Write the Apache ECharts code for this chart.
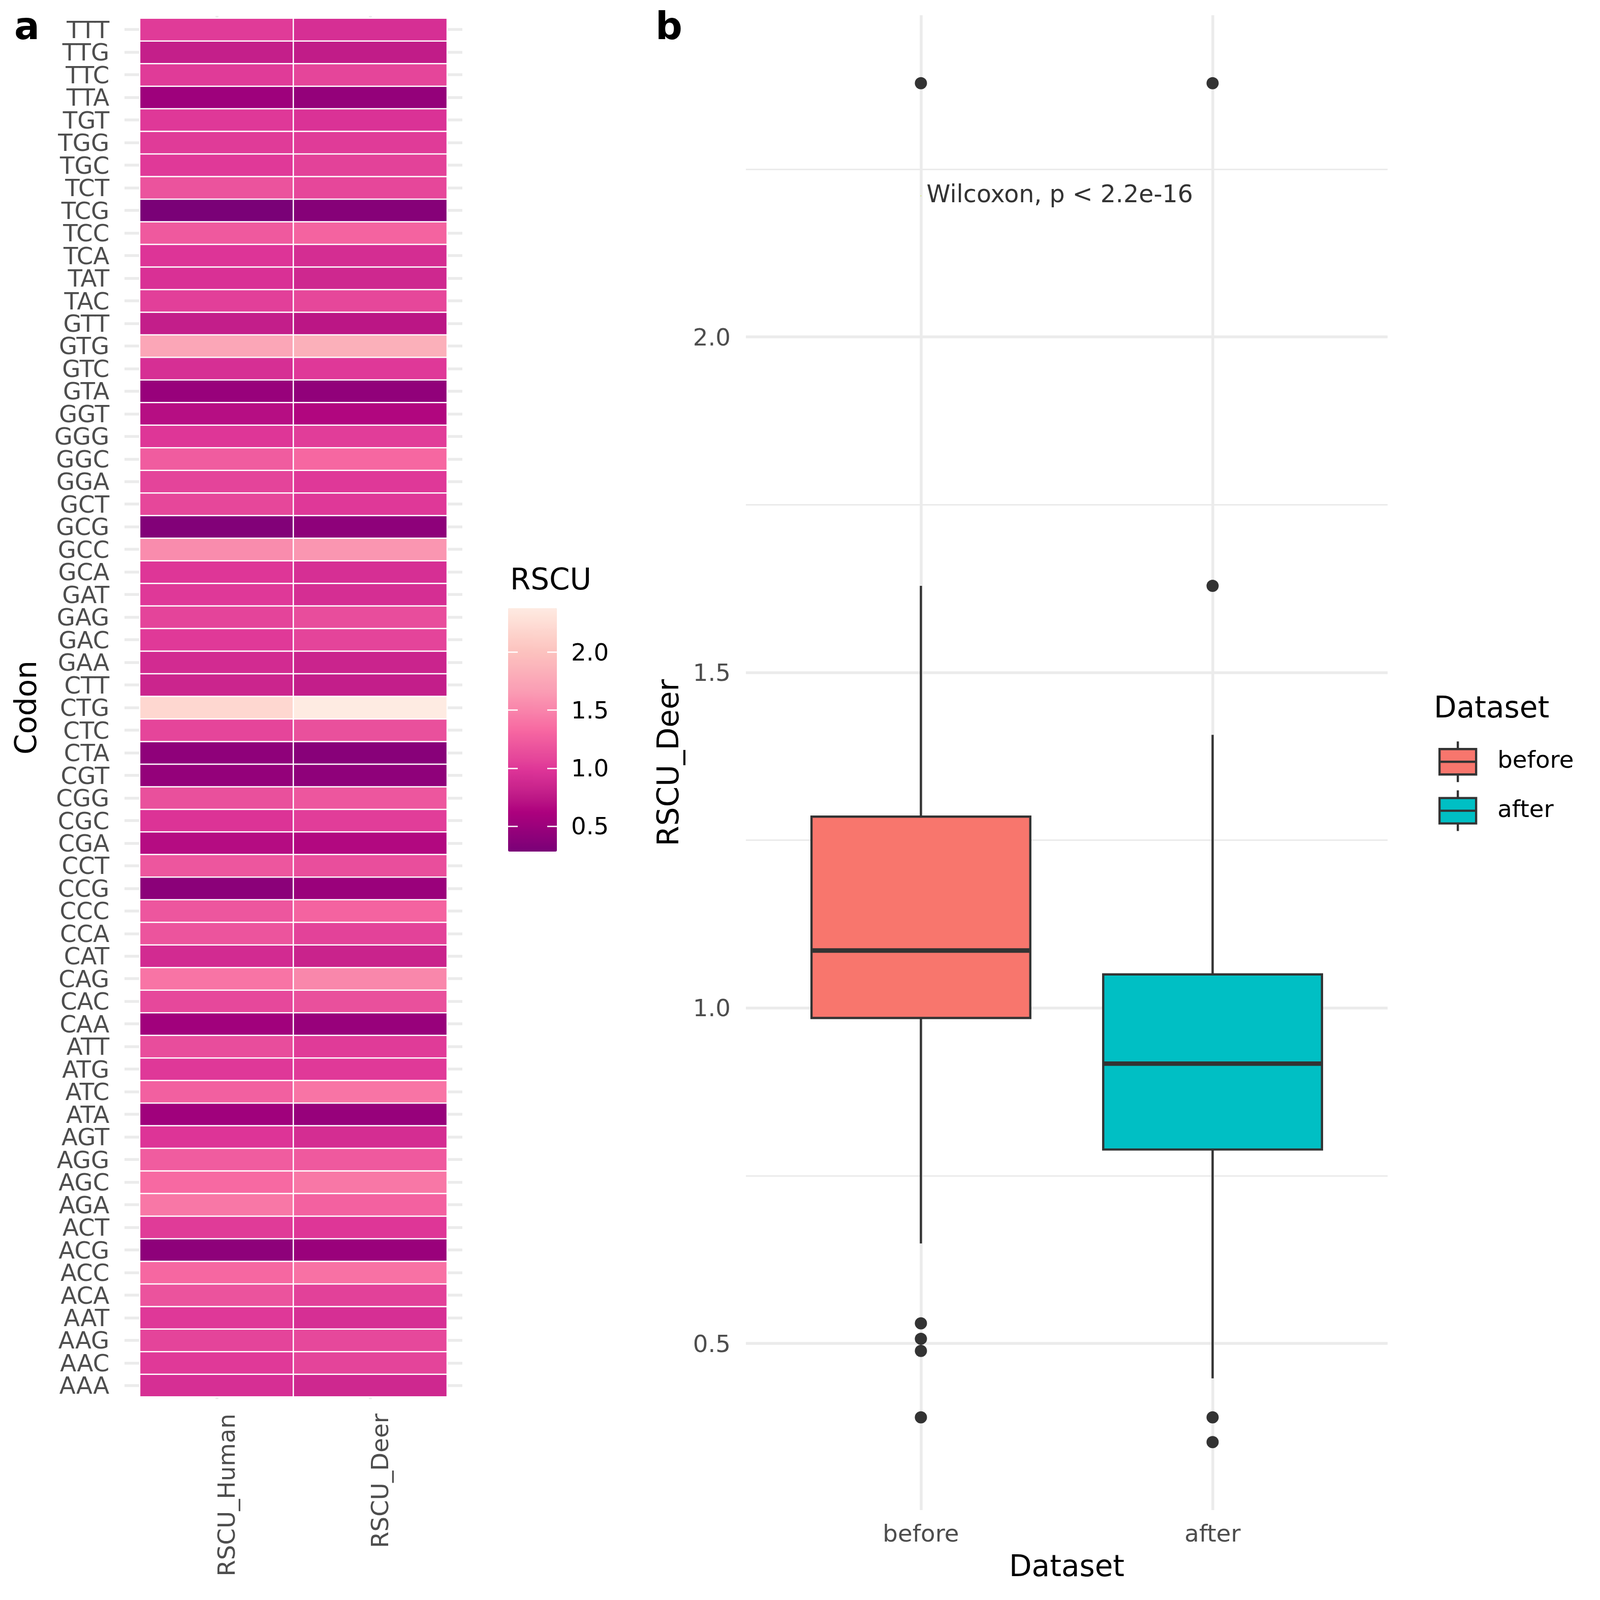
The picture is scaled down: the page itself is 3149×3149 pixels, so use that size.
<!DOCTYPE html>
<html><head><meta charset="utf-8">
<script src="https://cdn.jsdelivr.net/npm/echarts@6/dist/echarts.min.js"></script>
<style>html,body{margin:0;padding:0;background:#fff}#c{width:3149px;height:3149px}</style>
</head><body><div id="c"></div>
<script>
// ---------------- DATA ----------------
const codons = ['AAA','AAC','AAG','AAT','ACA','ACC','ACG','ACT','AGA','AGC','AGG','AGT','ATA','ATC','ATG','ATT',
  'CAA','CAC','CAG','CAT','CCA','CCC','CCG','CCT','CGA','CGC','CGG','CGT','CTA','CTC','CTG','CTT',
  'GAA','GAC','GAG','GAT','GCA','GCC','GCG','GCT','GGA','GGC','GGG','GGT','GTA','GTC','GTG','GTT',
  'TAC','TAT','TCA','TCC','TCG','TCT','TGC','TGG','TGT','TTA','TTC','TTG','TTT'];
const rscuHuman = [0.93,1.01,1.07,1.00,1.17,1.32,0.41,1.02,1.42,1.33,1.24,0.98,0.53,1.27,1.00,1.13,
  0.54,1.10,1.40,0.90,1.18,1.20,0.39,1.20,0.68,0.97,1.15,0.45,0.42,1.08,2.20,0.85,
  0.90,1.01,1.07,1.00,0.99,1.55,0.33,1.09,1.07,1.24,0.99,0.69,0.48,0.93,1.75,0.79,
  1.04,0.95,0.98,1.22,0.28,1.17,1.01,1.02,1.00,0.52,1.02,0.80,1.02];
const rscuDeer = [0.87,1.07,1.10,0.93,1.05,1.38,0.49,0.99,1.28,1.42,1.22,0.91,0.47,1.40,1.01,1.02,
  0.48,1.15,1.52,0.83,1.06,1.29,0.49,1.14,0.66,1.03,1.20,0.42,0.37,1.15,2.38,0.79,
  0.84,1.07,1.13,0.92,0.93,1.62,0.41,1.00,1.00,1.32,1.03,0.65,0.43,1.00,1.83,0.73,
  1.09,0.87,0.91,1.29,0.36,1.09,1.06,1.02,0.96,0.45,1.08,0.77,0.93];
const heatColumns = ['RSCU_Human','RSCU_Deer'];
const rscuTicks = [0.5, 1.0, 1.5, 2.0];

const datasets = ['before','after'];
const boxBefore = [0.649, 0.985, 1.0855, 1.285, 1.629];   // min, Q1, median, Q3, max (whiskers)
const boxAfter  = [0.448, 0.789, 0.917, 1.050, 1.407];
const outBefore = [2.378, 0.530, 0.507, 0.489, 0.390];
const outAfter  = [2.378, 1.629, 0.390, 0.353];
const boxTicks = [0.5, 1.0, 1.5, 2.0];
const boxMinorTicks = [0.75, 1.25, 1.75, 2.25];
const wilcox = {text:'Wilcoxon, p < 2.2e-16', x:1, y:2.21};

// ---------------- STYLE HELPERS ----------------
const FONT = 'DejaVu Sans';
const AX = 46.7, TT = 58;
const GREY = '#4D4D4D', GRID = '#EBEBEB';
const rdpu = ['#7A0177','#AE017E','#DD3497','#F768A1','#FA9FB5','#FCC5C0','#FEEBE2'];
const datasetColors = ['#F8766D','#00BFC4'];

function hex2rgb(h){return [1,3,5].map(i=>parseInt(h.slice(i,i+2),16));}
function s2l(c){c/=255;return c<=0.04045?c/12.92:Math.pow((c+0.055)/1.055,2.4);}
function l2s(c){c=c<=0.0031308?12.92*c:1.055*Math.pow(c,1/2.4)-0.055;return Math.round(Math.max(0,Math.min(1,c))*255);}
const WN=[0.95047,1,1.08883];
function ff(t){return t>0.008856?Math.cbrt(t):7.787*t+16/116;}
function fi(t){return t>0.206893?t*t*t:(t-16/116)/7.787;}
function rgb2lab(rgb){const [r,g,b]=rgb.map(s2l);const X=(0.4124*r+0.3576*g+0.1805*b)/WN[0],Y=0.2126*r+0.7152*g+0.0722*b,Z=(0.0193*r+0.1192*g+0.9505*b)/WN[2];const fx=ff(X),fy=ff(Y),fz=ff(Z);return [116*fy-16,500*(fx-fy),200*(fy-fz)];}
function lab2rgb(lab){const fy=(lab[0]+16)/116,fx=fy+lab[1]/500,fz=fy-lab[2]/200;const X=fi(fx)*WN[0],Y=fi(fy),Z=fi(fz)*WN[2];const r=3.2406*X-1.5372*Y-0.4986*Z,g=-0.9689*X+1.8758*Y+0.0415*Z,b=0.0557*X-0.2040*Y+1.0570*Z;return 'rgb('+[r,g,b].map(l2s).join(',')+')';}
function labRamp(hexes,n){const labs=hexes.map(h=>rgb2lab(hex2rgb(h)));const out=[];for(let i=0;i<n;i++){const t=i/(n-1)*(labs.length-1);const k=Math.min(Math.floor(t),labs.length-2);const u=t-k;out.push(lab2rgb(labs[k].map((v,j)=>v+(labs[k+1][j]-v)*u)));}return out;}

// ---------------- LAYOUT ----------------
const nRow = codons.length, nCol = heatColumns.length;
const hmPanel = {left:245, top:31.5, width:665, height:2722};
const uy = hmPanel.height/(nRow+0.2), ux = hmPanel.width/(nCol+0.2);
const hmTiles = {left:hmPanel.left+0.1*ux, top:hmPanel.top+0.1*uy, width:nCol*ux, height:nRow*uy};
const cb = {left:1000, top:1197, width:96, height:479};
const bxPanel = {left:1468, top:30, width:1263, height:2942};
const boxHalf = 0.375;

const heatData = [];
codons.forEach((c,i)=>{ heatData.push([0,i,rscuHuman[i]]); heatData.push([1,i,rscuDeer[i]]); });
const allHeat = rscuHuman.concat(rscuDeer);
const vMin = Math.min(...allHeat), vMax = Math.max(...allHeat);

const allBox = boxBefore.concat(boxAfter, outBefore, outAfter);
const bLo = Math.min(...allBox), bHi = Math.max(...allBox), bPad = 0.05*(bHi-bLo);
const boxStats = [boxBefore, boxAfter];
const outliers = [outBefore, outAfter];
const outData = [];
outliers.forEach((arr,i)=>arr.forEach(v=>outData.push([i+1, v])));

const range = n => Array.from({length:n},(_,i)=>i+1);
const txt = (size,color)=>({fontSize:size,color:color,fontFamily:FONT});
// rich label that nudges the glyphs down a few px so caps centre on the row
const nudged = (size,color,fmt)=>({formatter:v=>'{t|'+fmt(v)+'}', rich:{t:{fontSize:size,color:color,fontFamily:FONT,padding:[9,0,0,0]}}});

function renderBox(params, api){
  const x = api.value(0);
  const v = [1,2,3,4,5].map(i=>api.value(i));
  const cx = api.coord([x, v[2]])[0];
  const L = api.coord([x-boxHalf, v[3]]), R = api.coord([x+boxHalf, v[1]]);
  const yMin = api.coord([x, v[0]])[1], yMax = api.coord([x, v[4]])[1], yMed = api.coord([x, v[2]])[1];
  const st = {stroke:'#333333', lineWidth:4.4};
  return {type:'group', children:[
    {type:'line', shape:{x1:cx,y1:yMax,x2:cx,y2:L[1]}, style:st},
    {type:'line', shape:{x1:cx,y1:R[1],x2:cx,y2:yMin}, style:st},
    {type:'rect', shape:{x:L[0],y:L[1],width:R[0]-L[0],height:R[1]-L[1]}, style:{fill:api.visual('color'),stroke:'#333333',lineWidth:4.4}},
    {type:'line', shape:{x1:L[0],y1:yMed,x2:R[0],y2:yMed}, style:{stroke:'#333333',lineWidth:8.9}}
  ]};
}

const legendIcon = 'path://M36,0V15M0,15H72V65H0ZM0,40H72M36,65V80';

const option = {
  backgroundColor:'#ffffff',
  animation:false,
  textStyle:{fontFamily:FONT},
  grid:[
    Object.assign({outerBoundsMode:'none', containLabel:false}, hmPanel),
    Object.assign({outerBoundsMode:'none', containLabel:false}, hmTiles),
    Object.assign({outerBoundsMode:'none', containLabel:false}, cb),
    Object.assign({outerBoundsMode:'none', containLabel:false}, bxPanel)
  ],
  xAxis:[
    {gridIndex:0, type:'value', min:0.4, max:nCol+0.6, axisLine:{show:false}, axisLabel:{show:false},
     axisTick:{show:false, customValues:range(nCol)}, splitLine:{show:true, lineStyle:{color:GRID,width:5.6}}},
    {gridIndex:1, type:'category', data:heatColumns, axisLine:{show:false}, axisTick:{show:false}, splitLine:{show:false},
     axisLabel:Object.assign({rotate:90, margin:33, verticalAlign:'top', interval:0}, txt(AX,GREY))},
    {gridIndex:2, type:'value', show:false, min:0, max:1},
    {gridIndex:3, type:'value', min:0.4, max:datasets.length+0.6, axisLine:{show:false},
     axisTick:{show:false, customValues:range(datasets.length)},
     axisLabel:Object.assign({customValues:range(datasets.length), margin:26, formatter:v=>datasets[Math.round(v)-1]}, txt(AX,GREY)),
     splitLine:{show:true, lineStyle:{color:GRID,width:5.6}},
     name:'Dataset', nameLocation:'middle', nameGap:86, nameTextStyle:txt(TT,'#000')}
  ],
  yAxis:[
    {gridIndex:0, type:'value', min:0.4, max:nRow+0.6, axisLine:{show:false}, axisLabel:{show:false},
     axisTick:{show:false, customValues:range(nRow)}, splitLine:{show:true, lineStyle:{color:GRID,width:5.6}}},
    {gridIndex:1, type:'category', data:codons, axisLine:{show:false}, axisTick:{show:false}, splitLine:{show:false},
     axisLabel:Object.assign({margin:60, interval:0}, nudged(AX,GREY,v=>v)),
     name:'Codon', nameLocation:'middle', nameGap:190, nameTextStyle:txt(TT,'#000')},
    {gridIndex:2, type:'value', position:'left', min:vMin, max:vMax, z:10, axisLine:{show:false}, splitLine:{show:false},
     axisLabel:{show:false}, axisTick:{show:true, inside:true, length:19, customValues:rscuTicks, lineStyle:{color:'#ffffff',width:2.5}}},
    {gridIndex:2, type:'value', position:'right', min:vMin, max:vMax, z:10, axisLine:{show:false}, splitLine:{show:false},
     axisLabel:Object.assign({show:true, margin:28, customValues:rscuTicks}, nudged(AX,'#000',v=>v.toFixed(1))),
     axisTick:{show:true, inside:true, length:19, customValues:rscuTicks, lineStyle:{color:'#ffffff',width:2.5}}},
    {gridIndex:3, type:'value', min:bLo-bPad, max:bHi+bPad, axisLine:{show:false},
     axisTick:{show:false, customValues:boxTicks},
     axisLabel:Object.assign({customValues:boxTicks, margin:30}, nudged(AX,GREY,v=>v.toFixed(1))),
     splitLine:{show:true, lineStyle:{color:GRID,width:5.6}},
     name:'RSCU_Deer', nameLocation:'middle', nameGap:119, nameTextStyle:txt(TT,'#000')},
    {gridIndex:3, type:'value', min:bLo-bPad, max:bHi+bPad, axisLine:{show:false}, axisLabel:{show:false},
     axisTick:{show:false, customValues:boxMinorTicks},
     splitLine:{show:true, lineStyle:{color:GRID,width:2.8}}}
  ],
  visualMap:{type:'continuous', min:vMin, max:vMax, seriesIndex:0, orient:'vertical', left:cb.left, top:cb.top,
    itemWidth:cb.width, itemHeight:cb.height, padding:0, calculable:false, hoverLink:false, text:null,
    inRange:{color:labRamp(rdpu,64)}, textStyle:{fontSize:1,color:'rgba(0,0,0,0)'}},
  legend:{orient:'vertical', left:2826, top:1452, itemWidth:72, itemHeight:80, itemGap:12, selectedMode:false,
    data:datasets.map((d,i)=>({name:d, icon:legendIcon, itemStyle:{color:datasetColors[i], borderColor:'#333333', borderWidth:4.4}})),
    textStyle:Object.assign({padding:[0,0,0,37]}, txt(AX,'#000'))},
  series:[
    {type:'heatmap', xAxisIndex:1, yAxisIndex:1, data:heatData,
     itemStyle:{borderColor:'#ffffff', borderWidth:2.5}, emphasis:{disabled:true}},
    ...datasets.map((d,i)=>({type:'custom', name:d, xAxisIndex:3, yAxisIndex:4,
      encode:{x:0, y:[1,2,3,4,5]}, itemStyle:{color:datasetColors[i]},
      data:[[i+1].concat(boxStats[i])], renderItem:renderBox, z:3})),
    {type:'scatter', name:'outliers', xAxisIndex:3, yAxisIndex:4, data:outData, symbolSize:24,
     itemStyle:{color:'#333333', opacity:1}, z:5},
    {type:'scatter', name:'annotation', xAxisIndex:3, yAxisIndex:4, data:[[wilcox.x, wilcox.y]], symbolSize:0,
     label:Object.assign({show:true, position:'right', distance:10, formatter:wilcox.text, padding:[6,0,0,0]}, txt(47.5,'#000')), z:6}
  ],
  graphic:[
    {type:'text', x:28, y:58, style:{text:'a', fontSize:74, fontWeight:'bold', fontFamily:FONT, fill:'#000', verticalAlign:'middle'}},
    {type:'text', x:1290, y:58, style:{text:'b', fontSize:74, fontWeight:'bold', fontFamily:FONT, fill:'#000', verticalAlign:'middle'}},
    {type:'text', x:1004, y:1145, style:{text:'RSCU', fontSize:TT, fontFamily:FONT, fill:'#000', verticalAlign:'middle'}},
    {type:'text', x:2822, y:1397, style:{text:'Dataset', fontSize:TT, fontFamily:FONT, fill:'#000', verticalAlign:'middle'}}
  ]
};
const chart = echarts.init(document.getElementById('c'), null, {renderer:'canvas', devicePixelRatio:1});
chart.setOption(option);
</script></body></html>
